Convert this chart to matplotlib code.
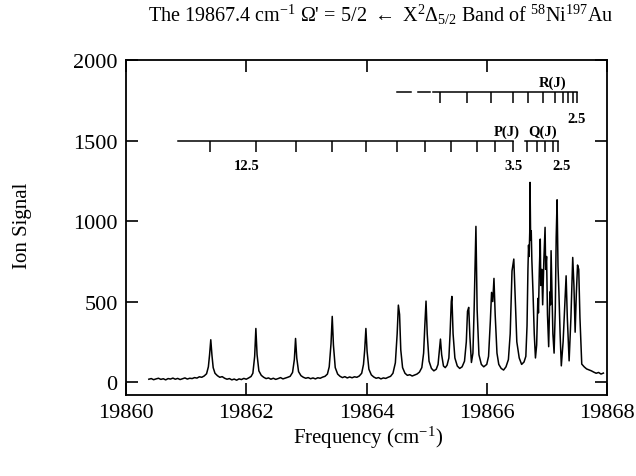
import matplotlib
matplotlib.use('Agg')
import matplotlib.pyplot as plt

plt.rcParams['font.family'] = ['Liberation Serif', 'DejaVu Serif']
plt.rcParams['mathtext.fontset'] = 'custom'
plt.rcParams['mathtext.rm'] = 'Liberation Serif'
plt.rcParams['mathtext.it'] = 'Liberation Serif:italic'
plt.rcParams['mathtext.bf'] = 'Liberation Serif:bold'

# ---------------- data ----------------
freq = [19860.38, 19860.42, 19860.46, 19860.50, 19860.54, 19860.58, 19860.62, 19860.66,
        19860.70, 19860.74, 19860.78, 19860.82, 19860.86, 19860.90, 19860.94, 19860.98,
        19861.02, 19861.06, 19861.10, 19861.14, 19861.18, 19861.22, 19861.26, 19861.30,
        19861.34, 19861.37, 19861.39, 19861.41, 19861.43, 19861.45, 19861.48, 19861.52,
        19861.56, 19861.60, 19861.64, 19861.68, 19861.72, 19861.76, 19861.80, 19861.84,
        19861.88, 19861.92, 19861.96, 19862.00, 19862.04, 19862.08, 19862.11, 19862.14,
        19862.16, 19862.18, 19862.21, 19862.25, 19862.29, 19862.33, 19862.37, 19862.41,
        19862.45, 19862.49, 19862.53, 19862.57, 19862.61, 19862.65, 19862.69, 19862.73,
        19862.77, 19862.80, 19862.82, 19862.84, 19862.87, 19862.91, 19862.95, 19862.99,
        19863.03, 19863.07, 19863.11, 19863.15, 19863.19, 19863.23, 19863.27, 19863.31,
        19863.35, 19863.38, 19863.41, 19863.43, 19863.45, 19863.48, 19863.52, 19863.56,
        19863.60, 19863.64, 19863.68, 19863.72, 19863.76, 19863.80, 19863.84, 19863.88,
        19863.92, 19863.95, 19863.97, 19863.99, 19864.01, 19864.04, 19864.08, 19864.12,
        19864.16, 19864.20, 19864.24, 19864.28, 19864.32, 19864.36, 19864.40, 19864.44,
        19864.48, 19864.51, 19864.53, 19864.55, 19864.57, 19864.60, 19864.64, 19864.68,
        19864.72, 19864.76, 19864.80, 19864.84, 19864.88, 19864.92, 19864.95, 19864.97,
        19864.99, 19865.01, 19865.04, 19865.08, 19865.12, 19865.16, 19865.19, 19865.21,
        19865.23, 19865.25, 19865.28, 19865.31, 19865.34, 19865.37, 19865.39, 19865.41,
        19865.42, 19865.44, 19865.47, 19865.51, 19865.55, 19865.59, 19865.63, 19865.66,
        19865.68, 19865.70, 19865.72, 19865.745, 19865.77, 19865.79, 19865.82, 19865.84,
        19865.87, 19865.91, 19865.95, 19866.00, 19866.03, 19866.06, 19866.08, 19866.10,
        19866.12, 19866.14, 19866.17, 19866.20, 19866.24, 19866.28, 19866.32, 19866.36,
        19866.39, 19866.42, 19866.45, 19866.47, 19866.50, 19866.54, 19866.58, 19866.62,
        19866.65, 19866.67, 19866.685, 19866.695, 19866.705, 19866.715, 19866.72, 19866.73,
        19866.74, 19866.75, 19866.77, 19866.79, 19866.81, 19866.83, 19866.85, 19866.86,
        19866.875, 19866.89, 19866.90, 19866.915, 19866.93, 19866.95, 19866.97, 19866.98,
        19866.995, 19867.01, 19867.03, 19867.05, 19867.06, 19867.07, 19867.085, 19867.10,
        19867.12, 19867.14, 19867.155, 19867.17, 19867.185, 19867.20, 19867.22, 19867.24,
        19867.27, 19867.30, 19867.32, 19867.34, 19867.37, 19867.40, 19867.43, 19867.45,
        19867.47, 19867.49, 19867.51, 19867.53, 19867.55, 19867.58, 19867.62, 19867.66,
        19867.70, 19867.74, 19867.78, 19867.82, 19867.86, 19867.90, 19867.94]

signal = [18, 22, 15, 20, 24, 17, 21, 14,
          22, 19, 25, 18, 23, 16, 21, 26,
          19, 24, 22, 28, 25, 33, 30, 38,
          52, 95, 170, 263, 165, 90, 55, 40,
          30, 34, 24, 18, 22, 14, 19, 12,
          20, 16, 23, 18, 26, 35, 55, 160,
          333, 170, 70, 42, 30, 22, 26, 18,
          24, 17, 22, 28, 20, 25, 30, 36,
          60, 140, 271, 150, 65, 40, 30, 24,
          28, 21, 26, 20, 27, 24, 31, 36,
          50, 95, 240, 408, 230, 90, 50, 36,
          28, 34, 26, 32, 27, 33, 30, 38,
          55, 110, 200, 333, 190, 80, 45, 32,
          24, 28, 20, 26, 23, 30, 36, 55,
          120, 300, 478, 420, 200, 90, 55, 42,
          46, 38, 44, 50, 62, 90, 180, 350,
          503, 300, 130, 85, 70, 80, 110, 190,
          267, 170, 100, 90, 105, 150, 300, 500,
          532, 300, 150, 100, 85, 95, 130, 250,
          440, 464, 280, 122, 180, 450, 967, 450,
          170, 110, 95, 110, 160, 380, 557, 500,
          644, 420, 180, 110, 85, 75, 95, 140,
          300, 690, 764, 560, 250, 150, 110, 125,
          160, 350, 700, 850, 780, 930, 1240, 880,
          940, 760, 550, 300, 150, 230, 520, 430,
          700, 888, 600, 700, 480, 760, 961, 700,
          780, 420, 220, 560, 480, 816, 560, 300,
          180, 450, 900, 1132, 720, 560, 300, 101,
          250, 500, 660, 400, 132, 400, 774, 600,
          310, 550, 727, 700, 400, 112, 95, 82,
          76, 70, 62, 55, 60, 50, 56]

# rotational assignment combs (line positions, cm-1)
r_lines = [19865.22, 19865.67, 19866.07, 19866.44, 19866.69, 19866.94,
           19867.14, 19867.27, 19867.35, 19867.44, 19867.50]
p_lines = [19861.40, 19862.16, 19862.83, 19863.43, 19863.99, 19864.51,
           19864.98, 19865.41, 19865.84, 19866.14, 19866.44]
q_lines = [19866.67, 19866.84, 19866.97, 19867.10, 19867.19]

x_ticks = [19860, 19862, 19864, 19866, 19868]
x_ticklabels = ['19860', '19862', '19864', '19866', '19868']
y_ticks = [0, 500, 1000, 1500, 2000]
y_ticklabels = ['0', '500', '1000', '1500', '2000']

# ---------------- figure ----------------
fig = plt.figure(figsize=(6.36, 4.77), dpi=100)
ax = fig.add_axes([126 / 636, 1 - 396 / 477, (607 - 126) / 636, (396 - 61) / 477])

ax.plot(freq, signal, color='black', lw=1.1)

ax.set_xlim(19860, 19868)
ax.set_ylim(-80, 2000)
ax.set_xticks(x_ticks)
ax.set_xticklabels(x_ticklabels)
ax.set_yticks(y_ticks)
ax.set_yticklabels(y_ticklabels)
ax.tick_params(direction='in', length=8.5, width=1.2, top=True, right=True,
               labelsize=16, pad=6)
for s in ax.spines.values():
    s.set_linewidth(1.3)

# R branch comb
lw_c = 1.1
ax.plot([r_lines[0] - 0.11, r_lines[-1]], [1800, 1800], color='black', lw=lw_c)
ax.plot([19864.51, 19864.74], [1800, 1800], color='black', lw=lw_c)
ax.plot([19864.86, 19865.06], [1800, 1800], color='black', lw=lw_c)
ax.vlines(r_lines, 1730, 1800, color='black', lw=lw_c)

# P branch comb
ax.plot([19860.87, p_lines[-1]], [1500, 1500], color='black', lw=lw_c)
ax.vlines(p_lines, 1430, 1500, color='black', lw=lw_c)

# Q branch comb
ax.plot([19866.64, q_lines[-1]], [1500, 1500], color='black', lw=lw_c)
ax.vlines(q_lines, 1430, 1500, color='black', lw=lw_c)

lab_kw = dict(fontsize=10.5, fontweight='bold', ha='center', va='center')
ax.text(19867.10, 1863, 'R(J)', **lab_kw)
ax.text(19867.50, 1634, '2.5', **lab_kw)
ax.text(19866.34, 1559, 'P(J)', **lab_kw)
ax.text(19866.92, 1559, 'Q(J)', **lab_kw)
ax.text(19862.00, 1342, '12.5', **lab_kw)
ax.text(19866.44, 1342, '3.5', **lab_kw)
ax.text(19867.24, 1342, '2.5', **lab_kw)

title = (r'The 19867.4 cm$^{\mathregular{-1}}$ $\Omega$' + "'" +
         r'$\,=\,$5/2 $\leftarrow$ X$^{\mathregular{2}}\Delta_{\mathregular{5/2}}$ Band of '
         r'$^{\mathregular{58}}$Ni$^{\mathregular{197}}$Au')
fig.text(381 / 636, 1 - 15 / 477, title, ha='center', va='center', fontsize=14.5)
fig.text(22 / 636, 1 - 226 / 477, 'Ion Signal', rotation=90, ha='center',
         va='center', fontsize=15)
fig.text(368 / 636, 1 - 438 / 477, r'Frequency (cm$^{\mathregular{-1}}$)',
         ha='center', va='center', fontsize=15)

fig.savefig('out.png', dpi=100)
